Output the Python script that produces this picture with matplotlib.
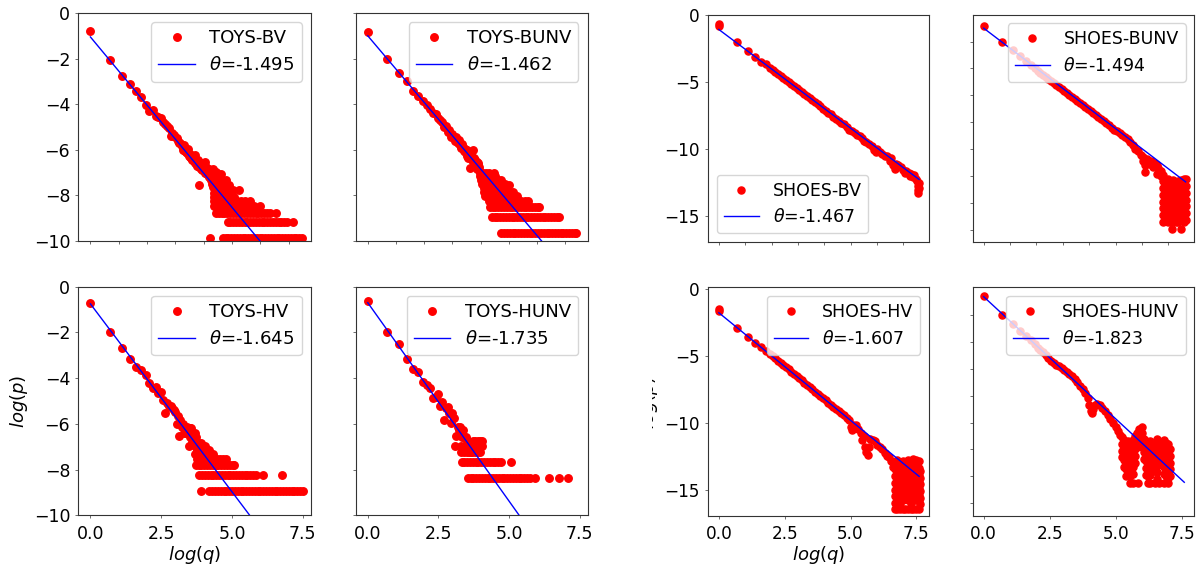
import matplotlib
matplotlib.use("Agg")
import matplotlib.pyplot as plt
from matplotlib.transforms import Bbox, TransformedBbox

# ---------------- data ----------------
# TOYS-BV
toys_bv_points = [(0, -0.81), (0.69, -2.08), (1.10, -2.76), (1.39, -3.11), (1.61, -3.40), (1.79, -3.67),
                  (1.95, -4.03), (2.08, -4.30), (2.20, -4.25), (2.30, -4.50), (2.40, -4.55), (2.48, -4.62),
                  (2.56, -4.78), (2.64, -4.87), (2.71, -4.95), (2.77, -5.06), (2.83, -5.40), (2.89, -5.28),
                  (2.94, -5.35), (3.00, -5.45), (3.04, -5.50), (3.09, -5.62), (3.14, -5.72), (3.18, -5.68),
                  (3.22, -5.85), (3.26, -6.00), (3.30, -5.80), (3.33, -6.05), (3.37, -6.10), (3.40, -6.16),
                  (3.43, -5.98), (3.47, -6.25), (3.50, -6.30), (3.53, -6.20), (3.56, -6.35), (3.58, -6.45),
                  (3.61, -6.30), (3.64, -6.50), (3.66, -6.40), (3.69, -6.23), (3.71, -6.60), (3.74, -6.50),
                  (3.76, -6.70), (3.78, -6.55), (3.81, -6.45), (3.83, -7.55), (3.85, -6.75), (3.87, -6.65),
                  (3.89, -6.85), (3.91, -6.60), (3.95, -6.89), (3.99, -6.75), (4.03, -6.52), (4.06, -7.00),
                  (4.09, -6.74)]
toys_bv_rows = [
    (-6.85, [4.00, 4.12, 4.20, 4.32]),
    (-6.96, [4.15, 4.43]),
    (-7.08, [4.10, 4.22, 4.30, 4.40, 4.50, 4.60]),
    (-7.21, [4.18, 4.28, 4.36, 4.47, 4.56]),
    (-7.33, [4.25, 4.36, 4.45, 4.55, 4.66, 4.77]),
    (-7.48, [4.30, 4.40, 4.50, 4.57, 4.68]),
    (-7.55, [4.35, 4.45, 4.62, 4.75, 4.90]),
    (-7.65, [4.32, 4.42, 4.55, 4.70, 4.82]),
    (-7.77, [4.40, 4.50, 4.60, 4.70, 4.80, 4.92, 5.04, 5.24]),
    (-7.90, [4.38, 4.48, 4.58, 4.68, 4.80, 4.92]),
    (-8.06, [4.36, 4.45, 4.55, 4.65, 4.75, 4.85, 4.97, 5.08]),
    (-8.24, [4.37, 4.47, 4.57, 4.67, 4.77, 4.87, 4.97, 5.07, 5.18, 5.30, 5.45, 5.65]),
    (-8.46, [4.38, 4.48, 4.58, 4.68, 4.78, 4.88, 4.98, 5.08, 5.18, 5.28, 5.38, 5.50, 5.62, 5.78, 5.99]),
    (-8.75, [4.43, 4.53, 4.63, 4.73, 4.83, 4.93, 5.03, 5.13, 5.23, 5.33, 5.43, 5.53, 5.63, 5.73, 5.83,
             5.93, 6.03, 6.13, 6.23, 6.33, 6.55]),
    (-9.16, [4.84, 4.94, 5.04, 5.14, 5.24, 5.34, 5.44, 5.54, 5.64, 5.74, 5.84, 5.94, 6.04, 6.14, 6.24,
             6.34, 6.44, 6.54, 6.64, 6.74, 6.84, 6.94, 7.16]),
    (-9.85, [4.23, 4.68, 4.77, 4.87, 4.97, 5.07, 5.17, 5.27, 5.37, 5.47, 5.57, 5.67, 5.77, 5.87, 5.97,
             6.07, 6.17, 6.27, 6.37, 6.47, 6.57, 6.67, 6.77, 6.87, 6.97, 7.07, 7.17, 7.27, 7.37, 7.47]),
]

# TOYS-BUNV
toys_bunv_points = [(0, -0.85), (0.69, -2.00), (1.10, -2.64), (1.39, -3.00), (1.61, -3.40), (1.79, -3.62),
                    (1.95, -3.85), (2.08, -4.05), (2.20, -4.20), (2.30, -4.40), (2.40, -4.45), (2.48, -4.62),
                    (2.56, -4.69), (2.64, -4.80), (2.71, -5.00), (2.77, -4.95), (2.83, -5.20), (2.89, -5.15),
                    (2.94, -5.42), (3.00, -5.30), (3.04, -5.50), (3.09, -5.60), (3.14, -5.45), (3.18, -5.70),
                    (3.22, -5.57), (3.26, -5.80), (3.30, -5.90), (3.33, -5.75), (3.37, -5.86), (3.40, -6.05),
                    (3.43, -5.95), (3.47, -6.15), (3.50, -6.00), (3.53, -6.25), (3.56, -6.38), (3.58, -6.10),
                    (3.61, -6.82), (3.64, -6.30), (3.66, -6.20), (3.69, -6.45), (3.71, -6.00), (3.74, -6.50),
                    (3.76, -6.35), (3.78, -6.60), (3.81, -6.45), (3.83, -6.70), (3.85, -6.55), (3.87, -6.85),
                    (3.89, -6.67), (3.91, -6.60), (3.93, -6.90), (3.95, -6.75)]
toys_bunv_rows = [
    (-7.00, [3.98, 4.08, 4.19, 4.30, 4.46]),
    (-7.15, [3.98, 4.10, 4.22, 4.35, 4.50]),
    (-7.33, [4.02, 4.12, 4.24, 4.36, 4.48, 4.60, 4.70]),
    (-7.48, [4.05, 4.15, 4.28, 4.40, 4.55, 4.86]),
    (-7.55, [4.10, 4.20, 4.32, 4.45, 4.62, 4.75, 5.00]),
    (-7.68, [4.12, 4.25, 4.38, 4.50, 4.59, 4.70, 4.85]),
    (-7.84, [4.10, 4.20, 4.30, 4.42, 4.55, 4.68, 4.80, 4.95, 5.14]),
    (-8.02, [4.15, 4.28, 4.40, 4.52, 4.64, 4.76, 4.88, 5.00, 5.15, 5.30]),
    (-8.24, [4.30, 4.40, 4.50, 4.60, 4.70, 4.80, 4.90, 5.00, 5.10, 5.20, 5.30, 5.41, 5.55, 5.68]),
    (-8.53, [4.32, 4.42, 4.52, 4.62, 4.72, 4.82, 4.92, 5.02, 5.12, 5.22, 5.32, 5.42, 5.52, 5.62, 5.72,
             5.82, 5.92, 6.02, 6.08]),
    (-8.94, [4.39, 4.49, 4.59, 4.69, 4.79, 4.89, 4.99, 5.09, 5.19, 5.29, 5.39, 5.49, 5.59, 5.69, 5.79,
             5.89, 5.99, 6.09, 6.19, 6.29, 6.39, 6.49, 6.59, 6.69, 6.76]),
    (-9.63, [4.73, 4.83, 4.93, 5.03, 5.13, 5.23, 5.33, 5.43, 5.53, 5.63, 5.73, 5.83, 5.93, 6.03, 6.13,
             6.23, 6.33, 6.43, 6.53, 6.63, 6.73, 6.83, 6.93, 7.03, 7.13, 7.23, 7.33, 7.39]),
]

# TOYS-HV
toys_hv_points = [(0, -0.70), (0.69, -2.00), (1.10, -2.68), (1.39, -3.18), (1.61, -3.53), (1.79, -3.64),
                  (1.95, -3.86), (2.08, -4.23), (2.20, -4.45), (2.30, -4.40), (2.40, -4.66), (2.48, -4.59),
                  (2.56, -4.96), (2.64, -5.54), (2.71, -5.10), (2.77, -5.22), (2.83, -5.22), (2.89, -5.32),
                  (2.94, -5.40), (3.00, -5.50), (3.04, -6.00), (3.09, -5.65), (3.14, -6.53), (3.18, -5.85),
                  (3.22, -6.12), (3.26, -6.00), (3.30, -6.41), (3.33, -6.20), (3.37, -6.41), (3.40, -6.12),
                  (3.43, -6.41), (3.47, -6.97), (3.50, -6.20), (3.53, -6.56), (3.56, -6.20), (3.58, -6.78),
                  (3.61, -6.41), (3.64, -6.78), (3.66, -6.56), (3.69, -6.41), (3.71, -6.97), (3.74, -6.56),
                  (3.76, -6.84), (3.78, -7.13), (3.81, -6.84), (3.83, -6.97), (3.85, -7.13), (3.89, -6.84),
                  (3.91, -7.13), (3.95, -6.97), (3.99, -7.13), (4.03, -6.97), (4.09, -7.13), (4.17, -7.13)]
toys_hv_rows = [
    (-7.31, [3.70, 3.80, 3.90, 4.00, 4.10, 4.20, 4.32]),
    (-7.53, [3.77, 3.87, 3.97, 4.07, 4.17, 4.27, 4.37, 4.47, 4.57, 4.68, 4.79]),
    (-7.82, [3.72, 3.82, 3.92, 4.02, 4.12, 4.22, 4.32, 4.42, 4.52, 4.62, 4.72, 4.82, 4.92, 5.02, 5.06]),
    (-8.23, [3.84, 3.94, 4.04, 4.14, 4.24, 4.34, 4.44, 4.54, 4.64, 4.74, 4.84, 4.94, 5.04, 5.14, 5.24,
             5.34, 5.44, 5.54, 5.64, 5.74, 5.84, 6.08, 6.77]),
    (-8.92, [3.91, 4.20, 4.30, 4.40, 4.50, 4.60, 4.70, 4.80, 4.90, 5.00, 5.10, 5.20, 5.30, 5.40, 5.50,
             5.60, 5.70, 5.80, 5.90, 6.00, 6.10, 6.20, 6.30, 6.40, 6.50, 6.60, 6.70, 6.80, 6.90, 7.00,
             7.10, 7.20, 7.30, 7.40, 7.50]),
]

# TOYS-HUNV
toys_hunv_points = [(0, -0.61), (0.69, -2.00), (1.10, -2.50), (1.39, -3.18), (1.61, -3.61), (1.79, -3.72),
                    (1.95, -4.15), (2.08, -4.30), (2.20, -4.45), (2.30, -4.88), (2.40, -4.81), (2.48, -4.70),
                    (2.56, -5.20), (2.64, -5.03), (2.71, -5.83), (2.77, -5.32), (2.83, -5.25), (2.89, -5.54),
                    (2.94, -5.98), (3.00, -5.54), (3.04, -5.76), (3.09, -6.95), (3.14, -6.53), (3.18, -6.12),
                    (3.22, -6.27), (3.26, -6.12), (3.30, -6.40), (3.33, -6.56), (3.37, -6.27), (3.40, -6.56),
                    (3.43, -6.96), (3.47, -6.56), (3.50, -6.74), (3.56, -6.74), (3.61, -6.96), (3.66, -7.25)]
toys_hunv_rows = [
    (-6.74, [3.71, 3.80, 3.90, 3.97, 4.05]),
    (-6.96, [3.30, 3.50, 3.69, 3.78, 3.85, 3.95, 4.05]),
    (-7.25, [3.30, 3.40, 3.50, 3.60, 3.70, 3.80, 3.90, 3.98]),
    (-7.66, [3.32, 3.42, 3.52, 3.62, 3.72, 3.82, 3.92, 4.02, 4.12, 4.22, 4.32, 4.42, 4.52, 4.62, 4.72, 5.07]),
    (-8.35, [3.54, 3.64, 3.74, 3.84, 3.94, 4.04, 4.14, 4.24, 4.34, 4.44, 4.54, 4.64, 4.74, 4.84, 4.94,
             5.04, 5.14, 5.24, 5.34, 5.44, 5.54, 5.64, 5.74, 5.92, 6.42, 6.76, 7.09]),
]

# SHOES-BV
shoes_bv_points = [(0, -0.72), (0, -0.85), (0.69, -2.05), (1.10, -2.67), (1.39, -3.17), (1.61, -3.49),
                   (1.79, -3.66), (1.95, -3.98), (2.05, -4.10), (2.15, -4.25), (2.25, -4.40), (2.35, -4.55),
                   (2.45, -4.70), (2.55, -4.85), (2.65, -5.02), (2.75, -5.15), (2.85, -5.30), (2.95, -5.45),
                   (3.05, -5.60), (3.15, -5.75), (3.25, -5.90), (3.35, -6.05), (3.45, -6.20), (3.55, -6.35),
                   (3.65, -6.50), (3.75, -6.65), (3.85, -6.82), (3.95, -6.98), (4.05, -7.15), (4.15, -7.30),
                   (4.25, -7.42), (4.35, -7.58), (4.45, -7.75), (4.55, -7.90), (4.65, -8.02), (4.75, -8.15),
                   (4.85, -8.32), (4.95, -8.55), (5.05, -8.68), (5.15, -8.78), (5.25, -8.92), (5.35, -9.05),
                   (5.45, -9.20), (5.52, -9.40), (5.60, -9.45), (5.70, -9.65), (5.80, -9.75), (5.90, -10.05),
                   (5.95, -10.20), (6.00, -10.00), (6.10, -10.20), (6.20, -10.35), (6.30, -10.50),
                   (6.40, -10.50), (6.50, -10.85), (6.55, -10.65), (6.60, -11.20), (6.67, -11.45),
                   (6.72, -11.10), (6.80, -11.20), (6.90, -11.35), (7.00, -11.55), (7.05, -11.80),
                   (7.10, -11.60), (7.20, -11.75), (7.25, -12.00), (7.30, -11.85), (7.38, -12.10),
                   (7.42, -11.95), (7.48, -12.20), (7.52, -12.40), (7.55, -12.70), (7.56, -13.00),
                   (7.57, -13.25), (7.60, -12.55), (7.61, -12.90)]

# SHOES-BUNV
shoes_bunv_points = [(0, -0.82), (0.69, -2.01), (1.10, -2.64), (1.39, -3.08), (1.61, -3.42), (1.79, -3.72),
                     (1.95, -3.96), (2.05, -4.15), (2.15, -4.30), (2.25, -4.45), (2.35, -4.60), (2.45, -4.75),
                     (2.55, -4.90), (2.65, -5.05), (2.75, -5.20), (2.85, -5.35), (2.95, -5.50), (3.05, -5.65),
                     (3.15, -5.80), (3.25, -5.95), (3.35, -6.10), (3.45, -6.25), (3.55, -6.40), (3.65, -6.55),
                     (3.75, -6.70), (3.85, -6.85), (3.95, -7.00), (4.05, -7.15), (4.15, -7.30), (4.25, -7.45),
                     (4.35, -7.60), (4.45, -7.75), (4.55, -7.90), (4.65, -8.05), (4.75, -8.20), (4.85, -8.40),
                     (4.95, -8.60), (5.05, -8.65), (5.15, -8.80), (5.25, -8.95), (5.35, -9.10), (5.45, -9.23),
                     (5.55, -9.45), (5.65, -9.70), (5.75, -9.97), (5.85, -10.10), (5.95, -10.40),
                     (6.04, -10.60), (6.04, -10.85), (6.12, -11.70), (6.12, -11.20), (6.20, -10.70),
                     (6.25, -11.10), (6.33, -10.85), (6.40, -11.30), (6.47, -11.00), (6.55, -11.20),
                     (6.55, -11.84), (6.62, -11.40), (6.70, -11.60), (6.70, -12.00)]
shoes_bunv_cols = [
    (6.78, [-11.9, -12.4, -12.9, -13.4, -13.9, -14.4, -14.9, -15.4]),
    (6.88, [-12.3, -12.8, -13.3, -13.8, -14.3, -14.8, -15.3]),
    (6.98, [-12.2, -12.7, -13.2, -13.7, -14.2, -14.7, -15.2, -15.45]),
    (7.08, [-12.4, -12.9, -13.4, -13.9, -14.4, -14.9, -15.4]),
    (7.12, [-15.95]),
    (7.18, [-12.3, -12.8, -13.3, -13.8, -14.3, -14.8, -15.3]),
    (7.28, [-12.5, -13.0, -13.5, -14.0, -14.5, -15.0, -15.45]),
    (7.38, [-12.4, -12.9, -13.4, -13.9, -14.4, -14.9, -15.4]),
    (7.48, [-12.3, -12.8, -13.3, -13.8, -14.3, -14.8, -15.3, -15.95]),
    (7.58, [-12.2, -12.7, -13.2, -13.7, -14.2, -14.7, -15.2, -15.45]),
    (7.66, [-12.25, -12.75, -13.25, -13.75, -14.25, -14.75, -15.25]),
]

# SHOES-HV
shoes_hv_points = [(0, -1.50), (0, -1.68), (0.69, -2.96), (1.10, -3.58), (1.39, -4.08), (1.61, -4.33),
                   (1.79, -4.62), (1.95, -4.85), (2.05, -5.05), (2.15, -5.20), (2.25, -5.38), (2.35, -5.55),
                   (2.45, -5.72), (2.55, -5.88), (2.65, -6.02), (2.75, -6.20), (2.85, -6.35), (2.95, -6.52),
                   (3.05, -6.70), (3.15, -6.85), (3.25, -7.02), (3.35, -7.18), (3.45, -7.35), (3.55, -7.50),
                   (3.65, -7.68), (3.75, -7.85), (3.85, -8.00), (3.95, -8.18), (4.05, -8.35), (4.15, -8.50),
                   (4.25, -8.68), (4.35, -8.82), (4.45, -9.00), (4.55, -9.15), (4.65, -9.32), (4.75, -9.45),
                   (4.85, -9.62), (4.95, -9.80), (5.00, -10.30), (5.05, -10.55), (5.10, -10.15),
                   (5.20, -10.20), (5.30, -10.45), (5.40, -10.80), (5.45, -11.30), (5.50, -11.00),
                   (5.55, -11.80), (5.60, -12.20), (5.65, -12.40), (5.70, -11.80), (5.75, -11.20),
                   (5.85, -11.30), (5.93, -11.40), (6.00, -11.65), (6.10, -11.80), (6.20, -12.00),
                   (6.30, -12.30), (6.37, -12.50), (6.45, -12.60), (6.55, -12.90), (6.60, -13.30),
                   (6.65, -13.10)]
shoes_hv_cols = [
    (6.70, [-13.0, -13.5, -14.0, -14.5, -15.0, -15.5, -16.0, -16.45]),
    (6.78, [-12.8, -13.3, -13.8, -14.3, -14.8, -15.3, -15.8, -16.45]),
    (6.88, [-13.0, -13.5, -14.0, -14.5, -15.0, -15.5, -16.0, -16.45]),
    (6.98, [-12.9, -13.4, -13.9, -14.4, -14.9, -15.4, -15.8, -16.45]),
    (7.08, [-13.1, -13.6, -14.1, -14.6, -15.1, -15.6, -16.45]),
    (7.18, [-12.8, -13.3, -13.8, -14.3, -14.8, -15.3, -15.8, -16.45]),
    (7.28, [-13.0, -13.5, -14.0, -14.5, -15.0, -15.5, -16.0, -16.45]),
    (7.38, [-12.7, -13.2, -13.7, -14.2, -14.7, -15.2, -15.8, -16.45]),
    (7.48, [-12.8, -13.3, -13.8, -14.3, -14.8, -15.3, -15.8, -16.45]),
    (7.58, [-12.9, -13.4, -13.9, -14.4, -14.9, -15.4, -15.8, -16.45]),
    (7.64, [-13.6, -14.1, -14.6, -15.1, -15.6, -16.1]),
]

# SHOES-HUNV
shoes_hunv_points = [(0, -0.57), (0.69, -2.00), (1.10, -2.62), (1.39, -3.16), (1.61, -3.55), (1.79, -3.85),
                     (1.95, -4.12), (2.05, -4.40), (2.15, -4.55), (2.25, -4.75), (2.35, -4.95), (2.45, -5.20),
                     (2.55, -5.40), (2.65, -5.55), (2.75, -5.68), (2.85, -5.80), (2.95, -5.90), (3.05, -6.05),
                     (3.15, -6.20), (3.25, -6.38), (3.35, -6.55), (3.45, -6.75), (3.55, -7.00), (3.65, -7.25),
                     (3.75, -7.50), (3.85, -7.80), (3.95, -8.20), (4.00, -8.70), (4.05, -9.10), (4.10, -9.25),
                     (4.15, -8.95), (4.20, -8.70), (4.30, -8.60), (4.40, -8.70), (4.50, -8.90), (4.60, -9.10),
                     (4.70, -9.40), (4.80, -9.70), (4.90, -10.00), (5.00, -10.30), (5.10, -10.60),
                     (5.18, -10.90)]
shoes_hunv_cols = [
    (5.25, [-11.1, -11.6, -12.1, -12.6]),
    (5.32, [-11.3, -11.8, -12.3, -12.8, -13.3]),
    (5.40, [-11.5, -12.0, -12.5, -13.0, -13.5, -14.0]),
    (5.48, [-11.4, -11.9, -12.4, -12.9, -13.4, -13.9]),
    (5.56, [-11.6, -12.1, -12.6, -13.1, -13.6, -14.0, -14.5]),
    (5.64, [-11.3, -11.8, -12.3, -12.8, -13.3, -13.8, -14.5]),
    (5.72, [-11.0, -11.5, -12.0, -12.5, -13.0]),
    (5.80, [-10.8, -11.3, -11.8]),
    (5.86, [-14.5]),
    (5.90, [-10.5, -11.0, -11.5]),
    (5.98, [-10.3, -10.8, -11.3, -11.8]),
    (6.06, [-11.2, -11.7, -12.2, -12.7]),
    (6.15, [-11.4, -11.9, -12.4, -12.9, -13.4, -13.9]),
    (6.22, [-11.5, -12.0, -12.5, -13.0, -13.5, -14.0, -14.5]),
    (6.30, [-11.4, -11.9, -12.4, -12.9, -13.4, -13.9, -14.5]),
    (6.38, [-12.0, -12.5, -13.0]),
    (6.48, [-11.6, -12.1, -12.6, -13.1, -13.6, -14.5]),
    (6.56, [-11.2, -11.7, -12.2, -12.7, -13.2, -13.7, -14.2]),
    (6.64, [-11.5, -12.0, -12.5, -13.0, -14.5]),
    (6.74, [-12.2, -12.7, -13.2]),
    (6.84, [-11.3, -11.8, -12.3, -12.8, -13.3, -13.8, -14.5]),
    (6.92, [-11.5, -12.0, -12.5, -13.0, -13.5, -14.0]),
    (7.00, [-11.6, -12.1, -12.6, -13.1, -13.6, -14.1, -14.5]),
    (7.06, [-12.0, -12.5, -13.0, -13.5, -14.0]),
]

# fitted power-law lines: (intercept, theta, last x)
fits = {
    "TOYS-BV": (-1.05, -1.495, 7.47),
    "TOYS-BUNV": (-1.00, -1.462, 7.39),
    "TOYS-HV": (-0.75, -1.645, 7.50),
    "TOYS-HUNV": (-0.70, -1.735, 7.09),
    "SHOES-BV": (-1.10, -1.467, 7.60),
    "SHOES-BUNV": (-1.00, -1.494, 7.65),
    "SHOES-HV": (-1.80, -1.607, 7.60),
    "SHOES-HUNV": (-0.60, -1.823, 7.60),
}
theta_labels = {"TOYS-BV": "-1.495", "TOYS-BUNV": "-1.462", "TOYS-HV": "-1.645", "TOYS-HUNV": "-1.735",
                "SHOES-BV": "-1.467", "SHOES-BUNV": "-1.494", "SHOES-HV": "-1.607", "SHOES-HUNV": "-1.823"}

# ---------------- figure ----------------
W, H = 1199, 571
fig = plt.figure(figsize=(W / 100, H / 100), dpi=100)


def rect(x0, y0, x1, y1):
    return [x0 / W, 1 - y1 / H, (x1 - x0) / W, (y1 - y0) / H]


def expand(points, rows=(), cols=()):
    xs = [p[0] for p in points]
    ys = [p[1] for p in points]
    for y, xl in rows:
        xs += list(xl)
        ys += [y] * len(xl)
    for x, yl in cols:
        xs += [x] * len(yl)
        ys += list(yl)
    return xs, ys


panels = [
    # name, data, rect px, group, row, col, legend loc
    ("TOYS-BV", expand(toys_bv_points, rows=toys_bv_rows), (78.5, 13, 310.8, 241), "toys", 0, 0, "upper right"),
    ("TOYS-BUNV", expand(toys_bunv_points, rows=toys_bunv_rows), (355.9, 13, 587.5, 241), "toys", 0, 1, "upper right"),
    ("TOYS-HV", expand(toys_hv_points, rows=toys_hv_rows), (78.5, 286.7, 310.8, 515.3), "toys", 1, 0, "upper right"),
    ("TOYS-HUNV", expand(toys_hunv_points, rows=toys_hunv_rows), (355.9, 286.7, 587.5, 515.3), "toys", 1, 1, "upper right"),
    ("SHOES-BV", expand(shoes_bv_points), (708.3, 14.7, 929.1, 242), "shoes", 0, 0, "lower left"),
    ("SHOES-BUNV", expand(shoes_bunv_points, cols=shoes_bunv_cols), (973.1, 14.7, 1194.3, 242), "shoes", 0, 1, "upper right"),
    ("SHOES-HV", expand(shoes_hv_points, cols=shoes_hv_cols), (708.3, 287.3, 929.1, 515.7), "shoes", 1, 0, "upper right"),
    ("SHOES-HUNV", expand(shoes_hunv_points, cols=shoes_hunv_cols), (973.1, 287.3, 1194.3, 515.7), "shoes", 1, 1, "upper right"),
]

for name, (xs, ys), r, group, row, col, loc in panels:
    ax = fig.add_axes(rect(*r))
    toys = group == "toys"
    ms = 5.4 if toys else 5.1
    ax.plot(xs, ys, "o", color="red", ms=ms, label=name, zorder=2)
    a, th, xe = fits[name]
    lx = [0.0, xe]
    ax.plot(lx, [a + th * v for v in lx], "-", color="blue", lw=1.0,
            label=r"$\theta$=" + theta_labels[name], zorder=3)

    if toys:
        ax.set_xlim(-0.42, 7.78)
        ax.set_ylim(-10, 0)
        ax.set_yticks([0, -2, -4, -6, -8, -10])
        tfs, lfs = 12.5, 13.1
    else:
        ax.set_xlim(-0.40, 7.98)
        ax.set_ylim((-16.9, 0) if row == 0 else (-16.95, 0.1))
        if col == 0:
            ax.set_yticks([0, -5, -10, -15])
        else:
            ax.set_yticks([-2, -4, -6, -8, -10, -12, -14, -16])
        tfs, lfs = 12.2, 12.5

    if row == 0:
        ax.set_xticks([0, 1, 2, 3, 4, 5, 6, 7])
        ax.set_xticklabels([])
    else:
        ax.set_xticks([0, 2.5, 5.0, 7.5])
        ax.set_xticklabels(["0.0", "2.5", "5.0", "7.5"])
    if col == 1:
        ax.set_yticklabels([])

    ax.tick_params(axis="both", labelsize=tfs, length=2.5, width=0.6, color="#555555")
    ax.tick_params(axis="x", pad=4.5)
    ax.tick_params(axis="y", pad=3.5)
    for sp in ax.spines.values():
        sp.set_color("#333333")
        sp.set_linewidth(0.8)

    ax.legend(loc=loc, fontsize=lfs)

# axis labels
fig.text(195 / W, 1 - 555 / H, "$log(q)$", ha="center", va="center", fontsize=13)
fig.text(818.5 / W, 1 - 555 / H, "$log(q)$", ha="center", va="center", fontsize=13)
fig.text(19 / W, 1 - 401 / H, "$log(p)$", ha="center", va="center", rotation=90, fontsize=13)
t = fig.text(659.5 / W, 1 - 402 / H, "$log(p)$", ha="right", va="center", rotation=90, fontsize=13)
t.set_clip_box(TransformedBbox(Bbox([[651.5 / W, 0.0], [1.0, 1.0]]), fig.transFigure))
t.set_clip_on(True)

fig.savefig("out.png", dpi=100)
